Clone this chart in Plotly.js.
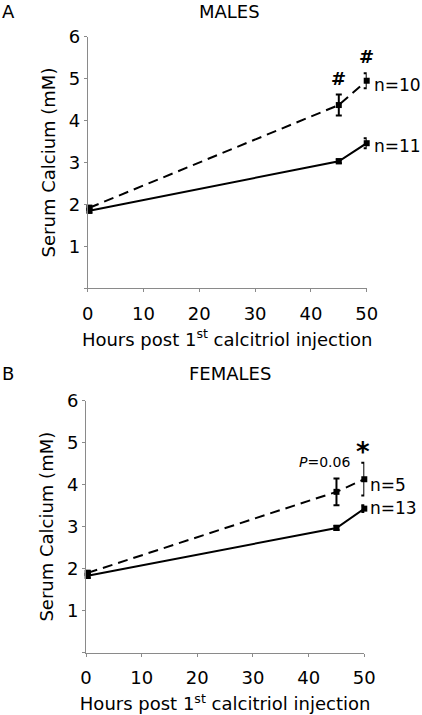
<!DOCTYPE html>
<html>
<head>
<meta charset="utf-8">
<script src="https://cdn.plot.ly/plotly-3.0.1.min.js"></script>
<style>html,body{margin:0;padding:0;background:#fff;}#chart{width:422px;height:715px;}</style>
</head>
<body>
<div id="chart"></div>
<script>
// ---- data ----
const hours = [0.3, 45, 50];
const malesSolid = [1.85, 3.03, 3.46];
const malesSolidErr = [0.05, 0.05, 0.12];
const malesDashed = [1.92, 4.37, 4.95];
const malesDashedErr = [0.05, 0.25, 0.18];
const femalesSolid = [1.83, 2.97, 3.43];
const femalesSolidErr = [0.05, 0.05, 0.08];
const femalesDashed = [1.90, 3.83, 4.13];
const femalesDashedErr = [0.05, 0.32, 0.39];
const yTickVals = [1, 2, 3, 4, 5, 6];
const yMinorTickVals = [0];
const xTickVals = [0, 10, 20, 30, 40, 50];
const panelTitles = ['MALES', 'FEMALES'];
const panelLetters = ['A', 'B'];
const nLabels = ['n=10', 'n=11', 'n=5', 'n=13'];

const FONT = 'DejaVu Sans, Liberation Sans, Arial, sans-serif';
const AX = '#8a8a8a';

function trace(y, err, dashed, xa, ya) {
  return {
    x: hours, y: y, xaxis: xa, yaxis: ya, type: 'scatter', mode: 'lines+markers',
    line: {color: '#000', width: 2, dash: dashed ? '10px,6px' : 'solid'},
    marker: {symbol: 'square', size: 6, color: '#000'},
    error_y: {type: 'data', array: err, visible: true, color: '#000', thickness: 2, width: 3},
    cliponaxis: false, showlegend: false, hoverinfo: 'x+y'
  };
}

const data = [
  trace(malesSolid, malesSolidErr, false, 'x', 'y'),
  trace(malesDashed, malesDashedErr, true, 'x', 'y'),
  trace(femalesSolid, femalesSolidErr, false, 'x2', 'y2'),
  trace(femalesDashed, femalesDashedErr, true, 'x2', 'y2')
];

function xax(domain, anchor) {
  return {
    domain: domain, anchor: anchor, range: [0, 50], showgrid: false, zeroline: false,
    showline: true, linecolor: AX, linewidth: 1, ticks: 'outside', ticklen: 3, tickcolor: AX,
    tickvals: xTickVals, tickfont: {family: FONT, size: 18, color: '#000'},
    ticklabelstandoff: 6,
    title: {text: 'Hours post 1<sup>st</sup> calcitriol injection', font: {family: FONT, size: 18, color: '#000'}, standoff: 10}
  };
}
function yax(domain, anchor) {
  return {
    domain: domain, anchor: anchor, range: [0, 6], showgrid: false, zeroline: false,
    showline: true, linecolor: AX, linewidth: 1, ticks: 'outside', ticklen: 3, tickcolor: AX,
    tickvals: yTickVals, tickfont: {family: FONT, size: 18, color: '#000'},
    minor: {tickmode: 'array', tickvals: yMinorTickVals, ticks: 'outside', ticklen: 3, tickcolor: AX, showgrid: false},
    title: {text: 'Serum Calcium (mM)', font: {family: FONT, size: 18, color: '#000'}, standoff: 8}
  };
}

const txt = (sz) => ({family: FONT, size: sz, color: '#000'});
const annotations = [
  {text: panelTitles[0], xref: 'paper', yref: 'paper', x: 230/422, y: 1, yshift: 1, xanchor: 'center', yanchor: 'top', showarrow: false, font: txt(18)},
  {text: panelTitles[1], xref: 'paper', yref: 'paper', x: 230/422, y: 1 - 361/715, xanchor: 'center', yanchor: 'top', showarrow: false, font: txt(18)},
  {text: panelLetters[0], xref: 'paper', yref: 'paper', x: 0, y: 1, yshift: 1, xanchor: 'left', yanchor: 'top', showarrow: false, font: txt(18)},
  {text: panelLetters[1], xref: 'paper', yref: 'paper', x: 0, y: 1 - 361/715, xanchor: 'left', yanchor: 'top', showarrow: false, font: txt(18)},
  {text: nLabels[0], xref: 'x', yref: 'y', x: 50, y: 4.85, xanchor: 'left', yanchor: 'middle', xshift: 5, showarrow: false, font: txt(17)},
  {text: nLabels[1], xref: 'x', yref: 'y', x: 50, y: 3.40, xanchor: 'left', yanchor: 'middle', xshift: 5, showarrow: false, font: txt(17)},
  {text: nLabels[2], xref: 'x2', yref: 'y2', x: 50, y: 3.99, xanchor: 'left', yanchor: 'middle', xshift: 4, showarrow: false, font: txt(17)},
  {text: nLabels[3], xref: 'x2', yref: 'y2', x: 50, y: 3.44, xanchor: 'left', yanchor: 'middle', xshift: 4, showarrow: false, font: txt(17)},
  {text: '<b>#</b>', xref: 'x', yref: 'y', x: 45, y: 5.0, xanchor: 'center', yanchor: 'middle', showarrow: false, font: txt(18)},
  {text: '<b>#</b>', xref: 'x', yref: 'y', x: 50, y: 5.52, xanchor: 'center', yanchor: 'middle', showarrow: false, font: txt(18)},
  {text: '<b>*</b>', xref: 'x2', yref: 'y2', x: 49.7, y: 4.78, xanchor: 'center', yanchor: 'middle', showarrow: false, font: txt(26)},
  {text: '<i>P</i>=0.06', xref: 'x2', yref: 'y2', x: 47.8, y: 4.53, xanchor: 'right', yanchor: 'middle', showarrow: false, font: txt(14)}
];

const layout = {
  width: 422, height: 715,
  margin: {l: 0, r: 0, t: 0, b: 0},
  paper_bgcolor: '#fff', plot_bgcolor: '#fff',
  font: {family: FONT, color: '#000'},
  showlegend: false,
  xaxis: xax([87.7/422, 366.7/422], 'y'),
  yaxis: yax([1 - 288.3/715, 1 - 36.7/715], 'x'),
  xaxis2: xax([86/422, 364.3/422], 'y2'),
  yaxis2: yax([1 - 652.7/715, 1 - 400.7/715], 'x2'),
  annotations: annotations
};

Plotly.newPlot('chart', data, layout, {displayModeBar: false, staticPlot: true});
</script>
</body>
</html>
